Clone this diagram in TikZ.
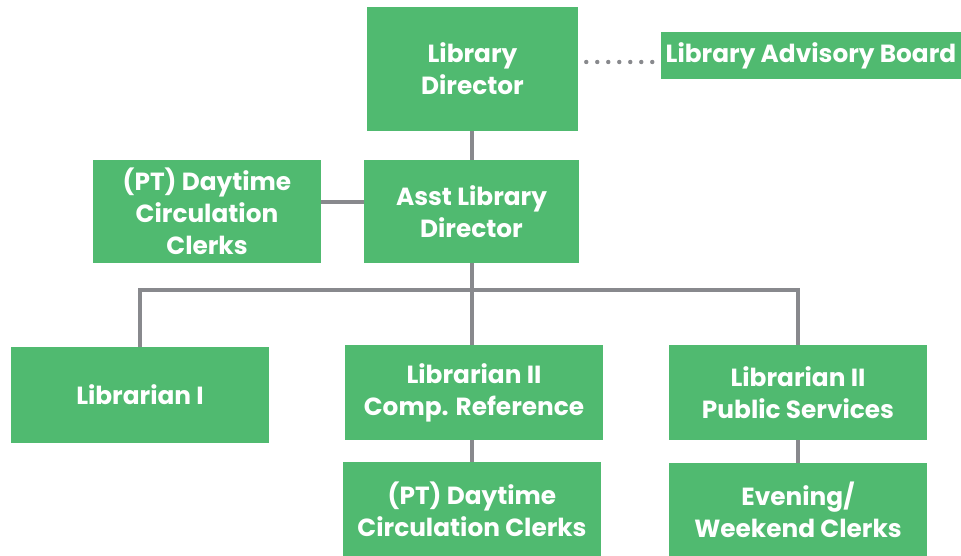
\documentclass[tikz,border=0pt]{standalone}
\usepackage{fontspec}
\setmainfont{Poppins}
\usetikzlibrary{calc}
\definecolor{boxgreen}{RGB}{80,186,112}
\definecolor{linegray}{RGB}{136,137,141}
\tikzset{
  orgbox/.style={rectangle, fill=boxgreen, draw=none, inner sep=0pt,
    text=white, align=center, font=\fontsize{18.6}{24}\selectfont\bfseries},
  link/.style={draw=linegray, line width=3.4pt},
  dotlink/.style={draw=linegray, line width=3.3pt, line cap=round,
    dash pattern=on 0pt off 8.25pt}
}
\begin{document}
\begin{tikzpicture}[x=0.75pt, y=-0.75pt]
  \useasboundingbox (0,0) rectangle (961,556);
  \fill[white] (0,0) rectangle (961,556);

  % top level
  \node[orgbox, minimum width=211*0.75pt, minimum height=124*0.75pt] (dir) at (472.5,69) {Library\\Director};
  \node[orgbox, minimum width=300*0.75pt, minimum height=47*0.75pt] (board) at (811,55.5) {Library Advisory Board};

  % second level
  \node[orgbox, minimum width=215*0.75pt, minimum height=103*0.75pt] (asst) at (471.5,211.5) {Asst Library\\Director};
  \node[orgbox, minimum width=228*0.75pt, minimum height=103*0.75pt] (ptl) at (207,211.5) {(PT) Daytime\\Circulation\\Clerks};

  % librarians
  \node[orgbox, minimum width=258*0.75pt, minimum height=96*0.75pt] (lib1) at (140,395) {Librarian I};
  \node[orgbox, minimum width=258*0.75pt, minimum height=95*0.75pt] (comp) at (474,392.5) {Librarian II\\Comp. Reference};
  \node[orgbox, minimum width=258*0.75pt, minimum height=95*0.75pt] (pub) at (798,392.5) {Librarian II\\Public Services};

  % clerks
  \node[orgbox, minimum width=258*0.75pt, minimum height=94*0.75pt] (ptb) at (472,509) {(PT) Daytime\\Circulation Clerks};
  \node[orgbox, minimum width=258*0.75pt, minimum height=93*0.75pt] (eve) at (798,509.5) {Evening/\\Weekend Clerks};

  % connectors
  \coordinate (bus) at (472,290);
  \draw[link] (dir.south -| bus) -- (asst.north -| bus);
  \draw[link] ($(ptl.east)+(0,-9.5)$) -- ($(asst.west)+(0,-9.5)$);
  \draw[link] (asst.south -| bus) -- (bus);
  \draw[link] (lib1.north) |- (bus) -| (pub.north);
  \draw[link] (bus) -- (bus |- comp.north);
  \draw[link] (comp.south -| ptb) -- (ptb.north);
  \draw[link] (pub.south) -- (eve.north);
  \draw[dotlink] ($(dir.east)+(8,-7)$) -- ($(board.west)+(-6,6.5)$);
\end{tikzpicture}
\end{document}
